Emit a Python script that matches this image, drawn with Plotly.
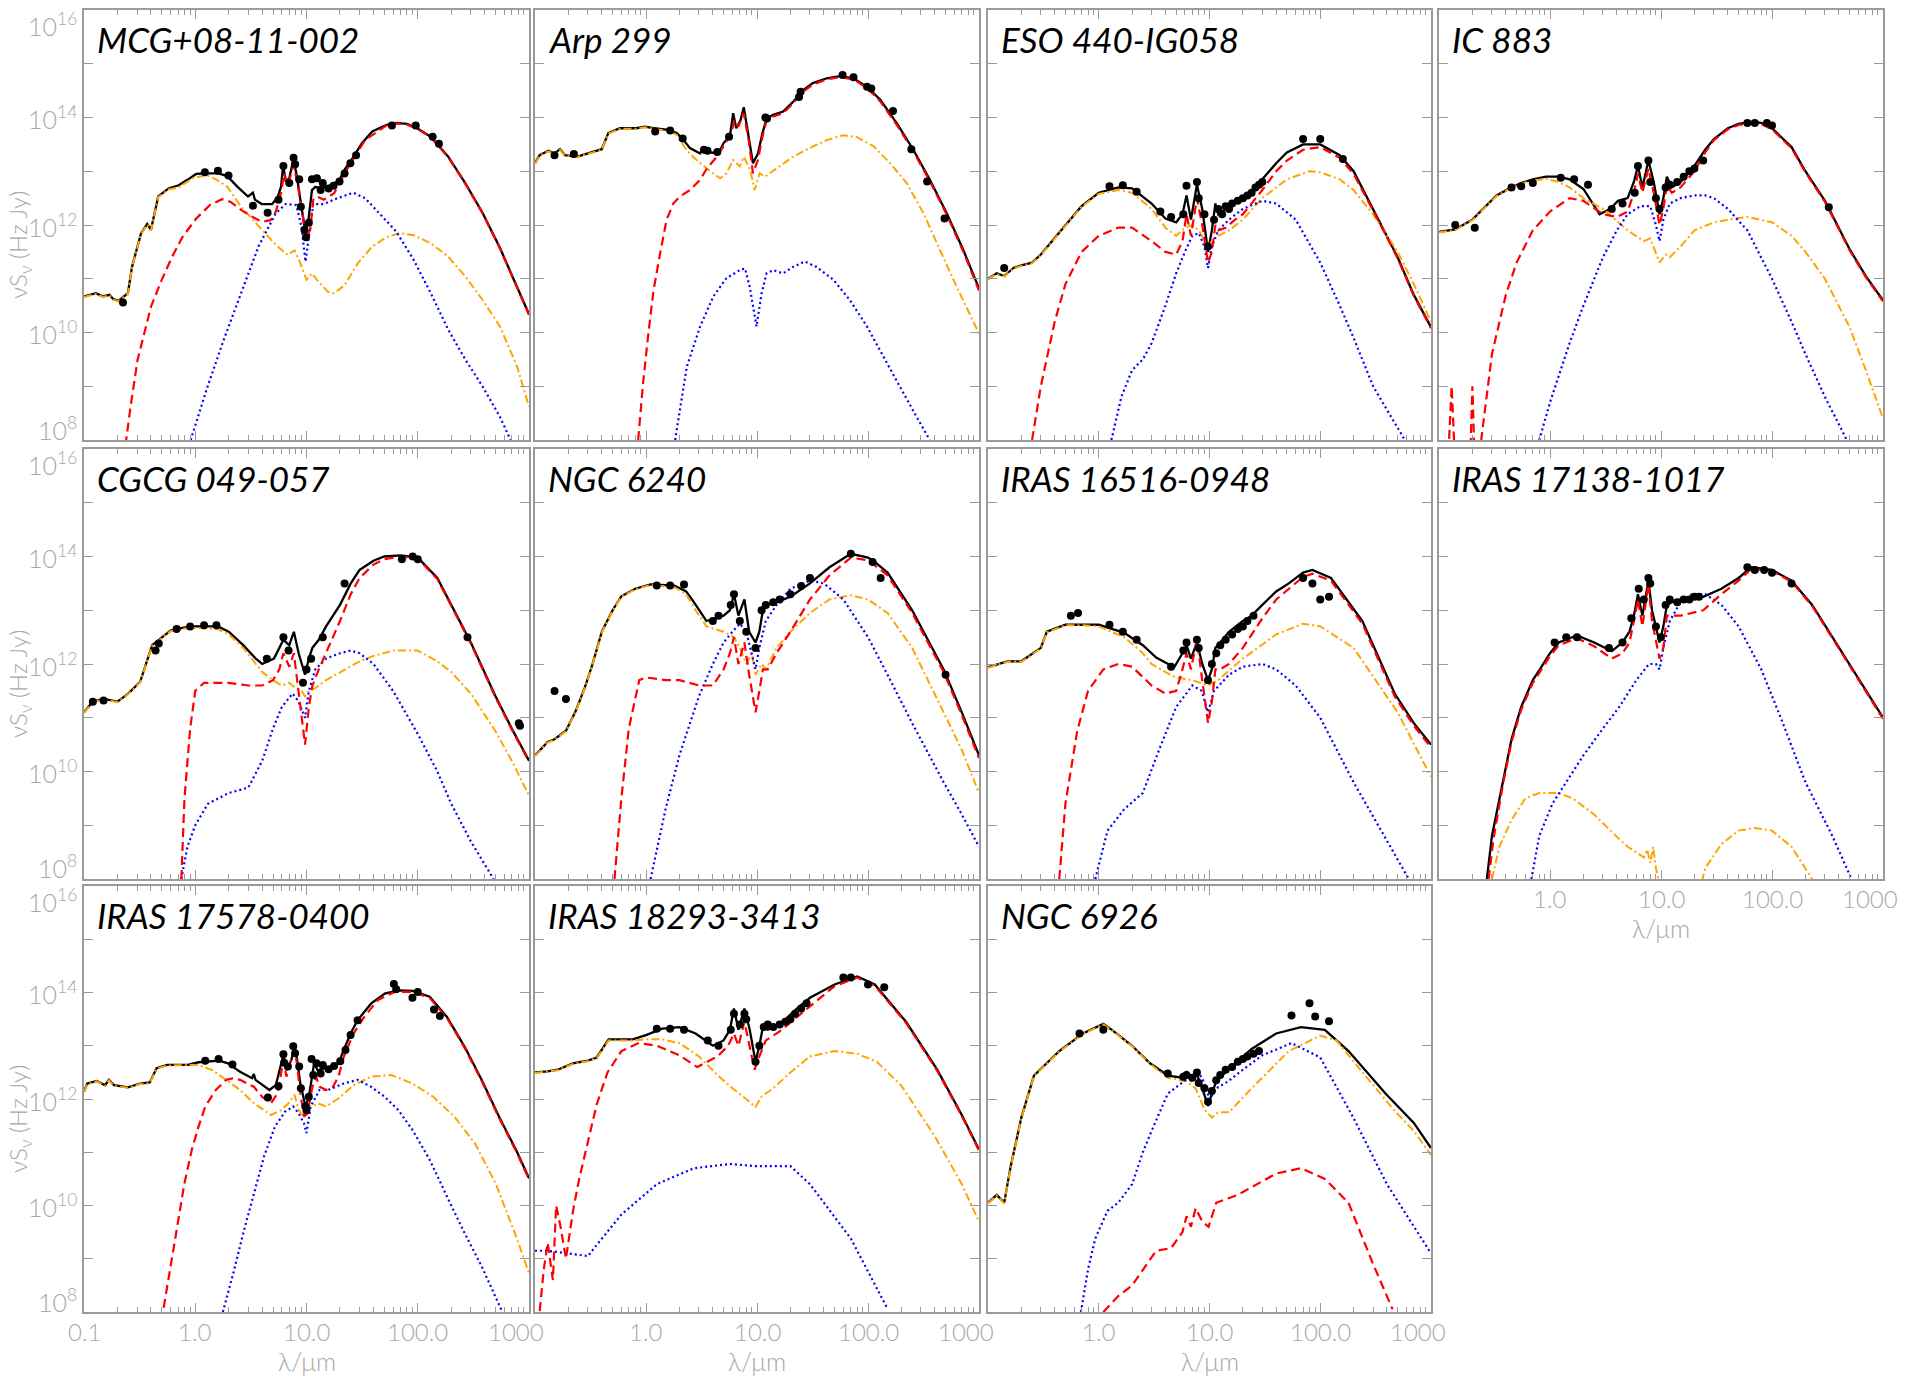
import math
import plotly.graph_objects as go

# ---------------- data (wavelength in micron, values = log10 of nu*S_nu in Hz Jy) ----------------
NAMES = ["MCG+08-11-002", "Arp 299", "ESO 440-IG058", "IC 883", "CGCG 049-057", "NGC 6240",
         "IRAS 16516-0948", "IRAS 17138-1017", "IRAS 17578-0400", "IRAS 18293-3413", "NGC 6926"]

MCG_TOT_L = [0.1,0.128,0.148,0.169,0.184,0.204,0.248,0.27,0.325,0.37,0.40,0.465,0.575,0.71,0.85,1.02,1.26,1.62,1.94,2.4,2.98,3.3,3.44,3.96,4.9,5.47,5.9,6.17,6.5,7.0,7.65,8.2,9.0,9.7,10.4,11.2,12.0,13.4,16.6,19.8,22,25.4,31.5,39,52,64,80,99,131,188,269,384,549,784,1000]
MCG_TOT_V = [10.67,10.73,10.67,10.70,10.62,10.59,10.73,11.22,11.84,12.02,11.91,12.53,12.68,12.74,12.84,12.95,12.96,12.96,12.91,12.71,12.53,12.60,12.47,12.39,12.39,12.50,12.71,13.12,12.81,12.87,13.24,12.90,12.34,11.91,12.09,12.65,12.71,12.68,12.74,12.84,13.03,13.21,13.52,13.74,13.86,13.90,13.88,13.80,13.64,13.27,12.77,12.22,11.57,10.85,10.34]
MCG_SB_L = [0.236,0.262,0.303,0.349,0.40,0.50,0.62,0.77,1.02,1.35,1.74,2.08,2.58,3.2,3.96,4.75,5.3,5.9,6.3,6.8,7.65,8.4,9.3,9.8,10.8,11.5,12.4,14.3,17.7,22,27.4,33.6,52,64,80,99,131,188,269,384,549,784,1000]
MCG_SB_V = [7.9,8.62,9.49,9.98,10.48,10.98,11.41,11.78,12.12,12.37,12.48,12.43,12.28,12.16,12.06,12.09,12.25,12.59,12.96,12.74,13.12,12.71,12.16,11.75,11.91,12.47,12.53,12.47,12.59,12.96,13.27,13.58,13.85,13.89,13.87,13.79,13.63,13.26,12.76,12.21,11.56,10.84,10.33]
MCG_HOST_L = [0.1,0.128,0.148,0.169,0.184,0.204,0.248,0.27,0.325,0.37,0.40,0.465,0.575,0.71,0.95,1.26,1.57,1.94,2.58,3.44,4.25,5.3,6.8,7.8,8.8,10.0,11.2,12.4,15.5,17.7,22,29,39,52,69,92,131,188,269,384,549,784,1000]
MCG_HOST_V = [10.66,10.72,10.66,10.69,10.61,10.58,10.72,11.21,11.83,12.01,11.90,12.52,12.66,12.70,12.87,12.93,12.84,12.71,12.34,12.06,11.84,11.63,11.44,11.53,11.29,10.98,11.10,10.98,10.76,10.73,10.88,11.29,11.60,11.77,11.85,11.81,11.66,11.41,11.04,10.60,10.11,9.36,8.62]
MCG_AGN_L = [0.91,1.26,1.8,2.58,3.7,5.3,6.5,8.1,9.0,9.8,10.6,11.5,14.3,19,26.3,33.6,45,64,92,131,188,269,384,549,682]
MCG_AGN_V = [8.0,8.93,9.86,10.73,11.60,12.22,12.39,12.37,11.97,11.32,11.85,12.39,12.39,12.50,12.60,12.50,12.22,11.88,11.35,10.73,10.05,9.49,8.99,8.43,8.0]
MCG_OBS_L = [0.224,1.22,1.6,1.99,3.3,4.47,5.6,6.2,7.0,7.65,7.9,8.6,8.9,9.6,9.9,10.5,11.2,12.4,13.4,14.0,15.8,17.5,19.8,22,24.8,27.9,58.6,95.9,136,155]
MCG_OBS_V = [10.56,12.98,13.01,12.92,12.36,12.23,12.47,13.10,12.78,13.25,13.13,12.85,12.34,11.91,11.77,12.04,12.85,12.87,12.65,12.78,12.68,12.73,12.81,12.96,13.15,13.30,13.85,13.85,13.64,13.51]

ARP_TOT_L = [0.1,0.11,0.132,0.15,0.168,0.186,0.237,0.292,0.399,0.458,0.58,0.82,0.98,1.17,1.59,1.89,2.16,2.49,3.07,3.29,3.53,4.49,4.99,5.72,6.1,6.5,7.1,7.6,8.4,9.2,10.2,11.2,12.2,14.0,17.2,21.1,26.1,31.8,42.5,56,74,98,129,182,256,361,512,724,1000]
ARP_TOT_V = [13.15,13.30,13.38,13.33,13.41,13.30,13.27,13.33,13.41,13.71,13.80,13.80,13.83,13.80,13.77,13.71,13.59,13.43,13.33,13.46,13.36,13.33,13.52,13.67,14.08,13.80,13.95,14.19,13.64,13.15,13.33,13.71,13.98,14.05,14.11,14.29,14.51,14.64,14.73,14.77,14.73,14.57,14.33,13.89,13.40,12.84,12.22,11.53,10.82]
ARP_SB_L = [0.85,0.94,1.05,1.17,1.34,1.53,1.76,2.02,2.49,3.07,3.53,4.34,5.2,5.9,6.3,6.8,7.6,8.4,9.2,10.2,11.2,12.2,14.0,17.2,21.1,26.1,31.8,42.5,56,74,98,129,182,256,361,512,724,1000]
ARP_SB_V = [8.0,9.05,9.98,10.79,11.47,12.09,12.40,12.53,12.65,12.84,13.05,13.27,13.52,13.74,13.95,13.83,14.08,13.58,12.96,13.21,13.64,13.95,14.02,14.08,14.26,14.48,14.61,14.71,14.75,14.71,14.55,14.30,13.86,13.37,12.81,12.19,11.50,10.78]
ARP_HOST_L = [0.1,0.11,0.132,0.15,0.168,0.186,0.237,0.292,0.399,0.458,0.58,0.82,0.98,1.17,1.59,1.89,2.3,2.85,3.53,4.65,5.3,6.1,7.0,7.6,8.7,9.5,10.6,11.8,15.0,21.1,31.8,42.5,59.7,79,113,158,223,316,446,630,1000]
ARP_HOST_V = [13.14,13.29,13.37,13.32,13.40,13.29,13.26,13.32,13.40,13.70,13.79,13.79,13.82,13.79,13.75,13.68,13.40,13.21,13.05,12.87,12.96,13.21,13.09,13.27,13.02,12.65,12.96,12.90,13.05,13.27,13.46,13.58,13.67,13.64,13.46,13.15,12.78,12.22,11.53,10.85,9.98]
ARP_AGN_L = [1.83,2.33,3.07,4.04,5.3,7.0,7.8,8.6,9.9,11.0,12.2,14.0,17.2,21.1,26.9,34.4,48.8,68.9,98,137,194,274,360]
ARP_AGN_V = [8.0,9.36,10.11,10.67,11.01,11.16,11.19,10.85,10.11,10.73,11.10,11.16,11.10,11.22,11.32,11.22,10.98,10.60,10.11,9.55,8.99,8.43,8.0]
ARP_OBS_L = [0.15,0.224,1.21,1.65,2.14,3.33,3.58,4.39,5.6,11.9,12.3,23.9,24.7,59,74,98,107,168,246,341,489]
ARP_OBS_V = [13.30,13.32,13.74,13.76,13.61,13.40,13.38,13.36,13.64,14.0,13.98,14.38,14.48,14.79,14.75,14.57,14.54,14.12,13.41,12.81,12.12]

ESO_TOT_L = [0.1,0.12,0.14,0.17,0.2,0.25,0.3,0.4,0.5,0.7,1.0,1.5,2.0,3.0,4.0,5.0,5.7,6.2,6.8,7.7,8.6,9.7,10.5,11.3,12.0,14,17,20,25,30,40,50,70,100,150,200,300,500,700,1000]
ESO_TOT_V = [11.0,11.1,11.05,11.2,11.25,11.3,11.45,11.75,12.0,12.35,12.6,12.7,12.68,12.4,12.12,12.05,12.2,12.55,12.1,12.75,12.3,11.5,11.9,12.4,12.2,12.3,12.4,12.5,12.65,12.85,13.15,13.35,13.5,13.5,13.3,13.0,12.3,11.4,10.7,10.1]
ESO_SB_L = [0.25,0.3,0.4,0.5,0.7,1.0,1.5,2.0,3.0,4.0,5.0,5.7,6.2,6.8,7.7,8.6,9.7,10.5,11.3,12,14,17,20,25,30,40,50,70,100,150,200,300,500,700,1000]
ESO_SB_V = [8.0,9.0,10.2,10.9,11.5,11.8,11.95,11.95,11.7,11.5,11.45,11.7,12.2,11.8,12.5,12.0,11.3,11.5,12.0,11.9,11.95,12.1,12.2,12.45,12.65,13.0,13.2,13.4,13.45,13.25,12.95,12.27,11.38,10.68,10.08]
ESO_HOST_L = [0.1,0.12,0.14,0.17,0.2,0.25,0.3,0.4,0.5,0.7,1.0,1.5,2.0,3.0,4.0,5.0,6.0,7.0,8.0,9.7,11,12,15,20,30,50,80,100,150,200,300,500,700,1000]
ESO_HOST_V = [10.99,11.09,11.04,11.19,11.24,11.29,11.44,11.74,11.99,12.34,12.58,12.65,12.6,12.3,11.95,11.8,11.95,12.0,11.9,11.6,11.75,11.8,11.9,12.1,12.5,12.85,13.0,12.98,12.85,12.65,12.2,11.5,10.9,10.2]
ESO_AGN_L = [1.3,1.6,2.0,2.5,3.0,4.0,5.0,6.0,7.0,8.0,9.0,9.7,10.5,12,15,20,30,40,60,100,150,200,300,450,580]
ESO_AGN_V = [8.0,8.8,9.3,9.5,9.8,10.5,11.1,11.5,11.8,11.85,11.6,11.2,11.6,11.9,12.1,12.3,12.45,12.4,12.1,11.3,10.5,9.9,9.0,8.4,8.0]
ESO_OBS_L = [0.14,1.25,1.65,2.2,3.6,4.5,5.8,6.2,7.7,8.0,9.0,9.7,11.0,12,13,14,15,16,18,20,22,24,26,28,30,70,100,160]
ESO_OBS_V = [11.2,12.72,12.74,12.62,12.25,12.15,12.2,12.73,12.8,12.5,12.2,11.6,12.1,12.3,12.2,12.35,12.3,12.4,12.45,12.5,12.55,12.6,12.7,12.75,12.8,13.6,13.6,13.23]

IC_TOT_L = [0.1,0.14,0.2,0.25,0.33,0.45,0.55,0.7,0.92,1.2,1.5,2.0,2.8,3.5,4.1,5.0,5.7,6.2,6.8,7.7,8.6,9.7,10.5,11.3,12.5,15,20,25,30,40,50,65,80,100,150,200,300,500,700,1000]
IC_TOT_V = [11.87,11.92,12.1,12.3,12.55,12.7,12.78,12.85,12.9,12.9,12.85,12.67,12.2,12.3,12.45,12.5,12.8,13.1,12.7,13.2,12.8,12.2,12.5,12.9,12.7,12.8,13.1,13.4,13.6,13.8,13.88,13.92,13.9,13.8,13.45,13.0,12.45,11.55,11.05,10.6]
IC_SB_L = [0.12,0.13,0.14,0.19,0.2,0.21,0.24,0.3,0.4,0.5,0.7,1.0,1.5,2.0,3.0,4.0,5.0,5.7,6.2,6.8,7.7,8.6,9.7,10.5,11.3,12.5,15,20,25,30,40,50,65,80,100,150,200,300,500,700,1000]
IC_SB_V = [7.5,9.0,7.5,7.5,9.0,7.5,8.0,9.6,10.7,11.3,11.9,12.25,12.5,12.45,12.2,12.15,12.25,12.6,12.95,12.6,13.05,12.6,12.0,12.3,12.75,12.6,12.7,13.0,13.35,13.58,13.78,13.86,13.9,13.88,13.78,13.43,12.98,12.43,11.53,11.03,10.58]
IC_HOST_L = [0.1,0.14,0.2,0.25,0.33,0.45,0.55,0.7,0.92,1.2,1.5,2.0,3.0,5.0,7.0,8.0,9.7,11,12,15,20,30,40,60,100,150,200,300,500,700,1000]
IC_HOST_V = [11.86,11.91,12.09,12.29,12.54,12.69,12.77,12.83,12.86,12.8,12.7,12.5,12.3,11.9,11.7,11.75,11.3,11.45,11.4,11.6,11.9,12.05,12.1,12.15,12.05,11.8,11.5,11.0,10.1,9.3,8.4]
IC_AGN_L = [0.8,1.0,1.5,2.0,3.0,4.0,5.0,6.5,8.0,9.0,9.7,10.5,12,15,20,25,30,40,60,100,150,200,300,500]
IC_AGN_V = [8.0,8.7,9.8,10.5,11.4,11.9,12.2,12.35,12.35,12.0,11.7,12.1,12.4,12.5,12.55,12.55,12.5,12.3,11.9,11.0,10.2,9.6,8.8,7.9]
IC_OBS_L = [0.14,0.21,0.45,0.55,0.7,1.25,1.65,2.2,3.6,4.5,5.8,6.2,7.7,8.0,9.0,9.7,11,12,14,16,18,20,24,60,70,90,100,325]
IC_OBS_V = [12.0,11.95,12.7,12.72,12.78,12.88,12.85,12.75,12.3,12.4,12.6,13.1,13.2,12.8,12.5,12.3,12.7,12.75,12.8,12.9,13.0,13.05,13.2,13.9,13.9,13.9,13.85,12.33]

CG_TOT_L = [0.1,0.12,0.15,0.2,0.25,0.32,0.41,0.5,0.6,0.8,1.0,1.6,2.0,2.7,3.5,4.0,5.1,5.7,6.2,7.0,7.7,8.5,9.7,10.5,11.3,12.9,15,20,25,30,40,50,70,100,150,200,300,500,700,1000]
CG_TOT_V = [11.1,11.3,11.35,11.3,11.45,11.67,12.35,12.5,12.62,12.68,12.7,12.7,12.6,12.35,12.1,12.0,12.1,12.3,12.45,12.35,12.6,12.2,11.8,12.1,12.3,12.45,12.7,13.1,13.5,13.75,13.92,14.0,14.02,13.98,13.6,13.1,12.4,11.4,10.8,10.2]
CG_SB_L = [0.75,0.8,0.9,1.0,1.2,1.6,2.0,3.0,4.0,5.0,5.7,6.2,7.0,7.7,8.5,9.7,10.5,11.3,12.9,15,20,25,30,40,50,70,100,150,200,300,500,700,1000]
CG_SB_V = [8.0,9.5,10.8,11.5,11.65,11.65,11.65,11.6,11.6,11.7,11.9,12.2,11.95,12.2,11.5,10.5,11.2,11.6,11.9,12.2,12.8,13.3,13.6,13.85,13.95,14.0,13.96,13.58,13.08,12.38,11.38,10.78,10.18]
CG_HOST_L = [0.1,0.12,0.15,0.2,0.25,0.32,0.41,0.5,0.6,0.8,1.0,1.6,2.0,2.7,3.5,4.0,5.0,6.0,7.0,8.0,9.0,9.7,10.5,12,15,20,30,40,60,100,150,200,300,500,700,1000]
CG_HOST_V = [11.09,11.29,11.34,11.29,11.44,11.66,12.34,12.49,12.61,12.66,12.67,12.65,12.55,12.3,12.0,11.85,11.7,11.6,11.65,11.55,11.5,11.4,11.5,11.55,11.7,11.85,12.05,12.15,12.25,12.25,12.05,11.85,11.45,10.75,10.2,9.55]
CG_AGN_L = [0.75,0.85,1.0,1.3,2.0,3.0,4.0,5.0,6.0,7.5,8.5,9.7,10.5,12,15,20,25,30,40,60,100,150,200,300,480]
CG_AGN_V = [8.0,8.6,9.0,9.4,9.6,9.7,10.2,10.8,11.2,11.45,11.3,11.0,11.5,11.9,12.1,12.2,12.25,12.2,12.0,11.5,10.7,10.0,9.4,8.7,8.0]
CG_OBS_L = [0.12,0.15,0.44,0.47,0.68,0.9,1.2,1.55,4.4,6.2,6.9,9.3,10,11,14,22,72,90,100,280,810,830]
CG_OBS_V = [11.3,11.32,12.25,12.38,12.65,12.7,12.72,12.72,12.1,12.5,12.25,11.65,11.9,12.1,12.5,13.5,13.95,14.0,13.95,12.5,10.9,10.85]

N62_TOT_L = [0.1,0.13,0.15,0.19,0.23,0.28,0.33,0.4,0.5,0.6,0.8,1.1,1.8,2.3,2.7,3.5,4.2,5.0,5.7,6.2,6.8,7.7,8.5,9.7,10.5,11.3,12.5,15,20,30,45,70,100,115,150,250,480,700,1000]
N62_TOT_V = [10.3,10.55,10.6,10.76,11.1,11.55,12.0,12.6,13.0,13.26,13.4,13.48,13.46,13.35,13.15,12.8,12.85,12.9,13.0,13.3,12.9,13.2,12.6,12.4,12.6,13.0,13.1,13.15,13.25,13.5,13.8,14.05,13.98,13.9,13.7,13.0,11.9,11.1,10.3]
N62_SB_L = [0.52,0.6,0.7,0.87,1.0,1.5,2.0,3.0,4.0,5.0,5.7,6.2,6.8,7.7,8.5,9.7,10.5,11.3,12.5,15,20,30,45,70,100,150,250,480,700,1000]
N62_SB_V = [8.0,9.5,10.8,11.7,11.75,11.7,11.7,11.6,11.6,11.9,12.2,12.5,12.0,12.4,11.8,11.1,11.5,11.9,11.9,12.2,12.6,13.2,13.65,13.98,13.93,13.65,12.95,11.85,11.05,10.25]
N62_HOST_L = [0.1,0.13,0.15,0.19,0.23,0.28,0.33,0.4,0.5,0.6,0.8,1.1,1.8,2.3,2.7,3.5,5.0,6.2,7.0,8.0,9.0,9.7,11,12,15,20,30,45,70,100,150,250,480,700,1000]
N62_HOST_V = [10.29,10.54,10.59,10.75,11.09,11.54,11.99,12.59,12.99,13.25,13.39,13.47,13.43,13.3,13.05,12.7,12.6,12.5,12.3,12.0,12.2,11.8,12.0,11.9,12.3,12.6,12.95,13.2,13.28,13.2,12.95,12.3,11.1,10.4,9.6]
N62_AGN_L = [1.1,1.5,2.0,3.0,4.0,5.0,6.0,7.0,8.0,9.0,9.7,10.5,12,15,20,30,40,60,100,150,250,480,700,1000]
N62_AGN_V = [8.0,9.3,10.3,11.4,12.0,12.4,12.6,12.75,12.6,12.2,11.9,12.3,12.8,13.1,13.4,13.55,13.5,13.2,12.5,11.8,10.9,9.8,9.2,8.6]
N62_OBS_L = [0.15,0.19,1.25,1.65,2.2,4.0,4.5,5.8,6.2,7.0,8.0,9.7,11,12,14,16,20,25,30,70,110,130,500]
N62_OBS_V = [11.5,11.35,13.46,13.46,13.48,12.8,12.9,13.1,13.3,12.8,12.6,12.3,13.0,13.1,13.15,13.2,13.3,13.45,13.6,14.05,13.9,13.6,11.8]

I16_TOT_L = [0.1,0.15,0.2,0.3,0.34,0.5,0.7,1.0,1.7,2.5,3.3,4.8,5.7,6.2,6.8,7.7,8.6,9.7,10.5,11.3,12.5,15,20,24,30,40,52,70,85,125,240,470,700,1000]
I16_TOT_V = [11.94,12.05,12.05,12.3,12.6,12.73,12.73,12.73,12.58,12.35,12.12,11.94,12.2,12.35,12.1,12.4,12.0,11.7,11.9,12.3,12.4,12.6,12.8,12.9,13.1,13.35,13.5,13.7,13.75,13.6,12.8,11.45,10.9,10.5]
I16_SB_L = [0.44,0.5,0.64,0.8,1.1,1.5,2.0,3.0,4.0,5.0,5.7,6.2,6.8,7.7,8.6,9.7,10.5,11.3,12.5,15,20,30,40,52,70,85,125,240,470,700,1000]
I16_SB_V = [8.0,9.4,10.76,11.5,11.9,12.0,11.95,11.6,11.45,11.5,11.9,12.2,11.9,12.45,11.7,10.9,11.3,11.9,11.9,12.0,12.3,12.85,13.2,13.4,13.62,13.68,13.55,12.75,11.4,10.85,10.45]
I16_HOST_L = [0.1,0.15,0.2,0.3,0.34,0.5,0.7,1.0,1.7,2.5,3.0,4.0,5.0,7.0,9.7,12,20,40,70,100,200,500,1000]
I16_HOST_V = [11.93,12.04,12.04,12.29,12.59,12.72,12.72,12.7,12.5,12.2,12.0,11.85,11.75,11.7,11.6,11.7,12.1,12.55,12.75,12.7,12.3,11.1,9.9]
I16_AGN_L = [0.93,1.2,1.7,2.5,3.5,5.0,7.0,8.5,9.7,11,15,20,30,40,60,100,200,400,630]
I16_AGN_V = [8.0,8.9,9.3,9.6,10.4,11.2,11.6,11.5,11.1,11.5,11.8,11.95,12.0,11.9,11.6,11.0,9.8,8.7,8.0]
I16_OBS_L = [0.56,0.65,1.25,1.65,2.2,4.5,5.8,6.2,7.7,8.0,9.7,10.5,11.5,12.5,14,16,18,20,22,25,70,85,100,120]
I16_OBS_V = [12.9,12.95,12.73,12.6,12.45,11.95,12.25,12.4,12.45,12.3,11.7,12.0,12.2,12.35,12.45,12.55,12.65,12.7,12.8,12.9,13.6,13.5,13.2,13.25]

I17_TOT_L = [0.27,0.3,0.38,0.45,0.55,0.7,0.81,1.0,1.2,1.75,2.5,3.6,4.5,5.2,5.7,6.2,6.8,7.7,8.3,9.0,9.7,10.5,11.3,12.5,15,24,35,50,65,100,150,230,500,700,1000]
I17_TOT_V = [8.0,8.8,9.85,10.6,11.2,11.7,11.9,12.2,12.4,12.53,12.4,12.24,12.4,12.6,12.9,13.3,12.9,13.55,13.0,12.7,12.4,12.7,13.1,13.15,13.2,13.25,13.4,13.6,13.8,13.75,13.55,13.1,12.0,11.5,11.0]
I17_SB_L = [0.28,0.31,0.38,0.45,0.55,0.7,0.81,1.0,1.2,1.75,2.5,3.6,4.5,5.2,5.7,6.2,6.8,7.7,8.3,9.0,9.7,10.5,11.3,12.5,15,24,35,50,65,100,150,230,500,700,1000]
I17_SB_V = [8.0,8.75,9.8,10.55,11.15,11.65,11.85,12.15,12.35,12.48,12.33,12.1,12.2,12.4,12.8,13.2,12.7,13.5,12.8,12.4,12.1,12.3,12.9,12.9,12.9,13.0,13.3,13.55,13.77,13.73,13.53,13.08,11.98,11.48,10.98]
I17_HOST_L = [0.3,0.35,0.45,0.6,0.8,1.2,1.6,2.5,3.5,5.0,6.0,7.0,7.5,8.0,8.5,9.0,9.7,23,25,35,50,70,100,150,230]
I17_HOST_V = [8.0,8.6,9.1,9.5,9.6,9.6,9.5,9.2,8.9,8.6,8.5,8.4,8.55,8.3,8.6,8.2,7.9,7.9,8.2,8.65,8.9,8.95,8.9,8.6,8.0]
I17_AGN_L = [0.68,0.8,1.05,1.5,2.0,3.0,4.2,6.0,7.8,9.0,9.7,10.5,12,15,19,25,35,50,80,120,200,350,520]
I17_AGN_V = [8.0,8.8,9.4,9.9,10.3,10.8,11.2,11.7,12.0,12.0,11.9,12.3,12.8,13.15,13.3,13.3,13.1,12.7,11.9,11.0,9.8,8.8,8.0]
I17_OBS_L = [1.1,1.4,1.75,3.4,4.5,5.4,6.3,7.0,7.7,8.0,9.0,10,11,12,14,16,18,20,22,60,70,85,100,150]
I17_OBS_V = [12.4,12.5,12.5,12.3,12.4,12.85,13.4,13.2,13.6,13.5,12.7,12.5,13.1,13.2,13.15,13.2,13.2,13.25,13.25,13.8,13.75,13.75,13.7,13.5]

I175_TOT_L = [0.1,0.107,0.13,0.145,0.155,0.167,0.186,0.248,0.318,0.39,0.45,0.56,0.86,1.07,1.64,1.97,2.53,3.24,3.36,3.48,4.64,5.3,5.7,6.2,6.6,7.3,7.8,8.2,8.8,9.8,10.5,11.3,11.7,12.6,14.0,16.2,19.4,21.6,24.9,28.8,38,50.5,67,89.6,128,183,264,375,537,766,1000]
I175_TOT_V = [12.14,12.29,12.34,12.29,12.26,12.36,12.26,12.22,12.29,12.31,12.58,12.64,12.64,12.69,12.72,12.67,12.51,12.39,12.47,12.36,12.17,12.26,12.54,12.83,12.54,12.73,12.98,12.76,12.29,11.86,12.04,12.48,12.67,12.54,12.57,12.57,12.67,12.92,13.23,13.48,13.79,13.98,14.04,14.03,13.92,13.54,12.98,12.36,11.67,11.04,10.51]
I175_SB_L = [0.52,0.6,0.69,0.8,0.93,1.07,1.23,1.53,1.9,2.2,2.53,2.92,3.36,4.0,4.8,5.5,6.2,6.6,7.1,7.8,8.2,8.8,9.5,10.2,11.3,12.2,13.1,15.0,17.3,19.4,21.6,26.5,33,43.8,62,89.6,128,183,264,375,537,766,1000]
I175_SB_V = [8.08,8.86,9.67,10.42,11.04,11.48,11.86,12.17,12.36,12.39,12.36,12.29,12.23,12.04,11.92,12.11,12.73,12.42,12.67,12.92,12.67,12.11,11.67,11.73,12.23,12.42,12.23,12.17,12.23,12.42,12.79,13.23,13.54,13.86,14.01,14.01,13.90,13.52,12.96,12.34,11.65,11.02,10.49]
I175_HOST_L = [0.1,0.107,0.13,0.145,0.155,0.167,0.186,0.248,0.318,0.39,0.45,0.56,0.86,1.07,1.43,1.9,2.53,3.36,4.8,5.9,6.9,7.8,8.5,9.5,10.2,11.3,12.6,15.0,19.4,26.5,38,58,89.6,138,213,326,500,766,1000]
I175_HOST_V = [12.13,12.28,12.33,12.28,12.25,12.35,12.25,12.21,12.28,12.30,12.57,12.63,12.63,12.64,12.54,12.36,12.17,11.92,11.70,11.79,11.92,12.08,11.79,11.67,11.86,11.86,11.92,11.86,12.01,12.26,12.42,12.45,12.29,12.04,11.67,11.17,10.42,9.42,8.73]
I175_AGN_L = [1.77,2.2,2.7,3.36,4.15,5.2,6.4,7.6,8.5,9.5,10.0,10.9,13.1,16.2,21.6,28.8,38,50.5,67,89.6,128,183,264,375,576]
I175_AGN_V = [8.0,8.73,9.48,10.23,10.92,11.48,11.76,11.86,11.73,11.54,11.36,11.86,12.17,12.18,12.29,12.36,12.23,12.04,11.79,11.42,10.86,10.17,9.48,8.86,8.0]
I175_OBS_L = [1.23,1.62,2.16,4.5,5.6,6.2,6.3,6.8,7.6,7.9,8.6,8.9,9.8,10.0,10.5,11.1,11.5,12.3,13.4,14.0,15.8,17.7,20.1,22.4,24.9,28.8,61,64,89.6,100,140,158]
I175_OBS_V = [12.72,12.75,12.65,12.03,12.24,12.84,12.68,12.61,12.99,12.86,12.61,12.2,11.86,11.79,12.04,12.75,12.45,12.67,12.48,12.64,12.56,12.62,12.71,12.92,13.2,13.48,14.16,14.06,13.9,14.01,13.68,13.56]

I18_TOT_L = [0.1,0.13,0.16,0.22,0.3,0.36,0.46,0.6,0.76,1.0,1.4,2.0,2.8,4.0,5.0,5.7,6.2,6.8,7.7,8.6,9.7,10.5,11.3,12.5,16,23,30,50,80,115,220,420,700,1000]
I18_TOT_V = [12.5,12.52,12.55,12.67,12.72,12.78,13.12,13.12,13.12,13.2,13.32,13.35,13.23,13.0,13.1,13.3,13.7,13.3,13.7,13.3,12.7,13.0,13.35,13.3,13.4,13.7,13.9,14.15,14.3,14.15,13.45,12.55,11.7,11.05]
I18_SB_L = [0.1,0.11,0.12,0.13,0.145,0.155,0.17,0.19,0.22,0.25,0.3,0.36,0.45,0.6,0.86,1.25,2.0,2.9,4.4,5.5,6.2,6.8,7.7,8.6,9.5,10.5,12,16,28,50,80,115,220,420,700,1000]
I18_SB_V = [7.5,8.0,8.8,9.3,8.6,10.0,9.6,9.0,9.9,10.5,11.2,11.9,12.5,12.9,13.05,13.0,12.82,12.6,12.8,13.0,13.23,13.0,13.45,13.0,12.55,12.8,13.1,13.27,13.68,14.12,14.28,14.13,13.43,12.53,11.68,11.03]
I18_HOST_L = [0.1,0.13,0.16,0.22,0.3,0.36,0.46,0.6,0.76,1.0,1.4,2.0,3.0,4.4,6.0,8.0,9.7,11,14,20,30,50,80,120,200,400,700,1000]
I18_HOST_V = [12.49,12.51,12.54,12.66,12.71,12.77,13.1,13.1,13.1,13.12,13.12,13.05,12.8,12.45,12.2,12.0,11.85,12.05,12.2,12.5,12.8,12.9,12.85,12.7,12.25,11.3,10.4,9.7]
I18_AGN_L = [0.1,0.13,0.2,0.3,0.36,0.6,1.25,2.7,5.7,9.5,20,30,70,150]
I18_AGN_V = [9.15,9.15,9.1,9.05,9.26,9.83,10.4,10.7,10.78,10.74,10.74,10.4,9.38,8.06]
I18_OBS_L = [1.25,1.65,2.2,3.6,4.5,5.8,6.2,7.0,7.7,8.0,9.7,10.5,11.5,12.5,14,16,18,20,22,25,28,60,70,100,140]
I18_OBS_V = [13.32,13.32,13.3,13.1,13.0,13.3,13.6,13.4,13.6,13.5,12.7,13.0,13.35,13.4,13.35,13.4,13.45,13.5,13.6,13.7,13.8,14.28,14.28,14.15,14.1]

N69_TOT_L = [0.1,0.12,0.14,0.16,0.2,0.26,0.35,0.44,0.72,1.1,1.35,2.0,2.9,4.2,5.7,6.2,6.8,7.7,8.6,9.7,10.5,11.5,14.7,24,40,67,110,180,390,700,1000]
N69_TOT_V = [10.05,10.2,10.05,10.73,11.65,12.44,12.7,12.9,13.23,13.41,13.28,13.0,12.67,12.44,12.4,12.5,12.35,12.46,12.2,11.87,12.1,12.33,12.55,12.94,13.23,13.35,13.3,12.9,12.1,11.55,11.08]
N69_SB_L = [1.1,1.5,2.0,3.3,4.5,5.7,6.2,6.8,7.5,8.6,9.8,11.5,18,40,67,110,180,300,450]
N69_SB_V = [8.0,8.3,8.5,9.15,9.2,9.5,9.8,9.6,9.95,9.7,9.6,10.05,10.2,10.6,10.7,10.5,10.05,8.9,8.05]
N69_HOST_L = [0.1,0.12,0.14,0.16,0.2,0.26,0.35,0.44,0.72,1.1,1.35,2.0,2.9,4.2,6.2,7.5,9.0,10.5,12,15,24,52,100,140,220,460,700,1000]
N69_HOST_V = [10.04,10.19,10.04,10.72,11.64,12.43,12.69,12.89,13.22,13.4,13.27,12.99,12.66,12.4,12.33,12.2,11.8,11.65,11.75,11.75,12.2,12.9,13.19,13.1,12.6,11.8,11.4,10.95]
N69_AGN_L = [0.69,0.8,0.93,1.2,1.5,2.0,2.5,3.0,4.2,6.2,8.0,9.0,10.0,11.5,14.7,20,30,55,100,200,400,700,1000]
N69_AGN_V = [8.0,8.8,9.38,9.9,10.05,10.4,11.0,11.4,12.1,12.37,12.5,12.3,11.99,12.2,12.33,12.55,12.82,13.05,12.78,11.64,10.4,9.6,9.1]
N69_OBS_L = [0.67,1.1,4.2,5.8,6.2,7.0,7.7,8.0,9.0,9.7,10.5,11.5,12.5,14,16,18,20,22,25,28,55,80,90,120]
N69_OBS_V = [13.23,13.3,12.48,12.42,12.45,12.4,12.5,12.3,12.2,11.95,12.15,12.35,12.45,12.55,12.6,12.7,12.75,12.8,12.85,12.9,13.57,13.8,13.55,13.46]

X_TICKS = [0.1, 1, 10, 100, 1000]
X_TICK_TEXT = ["0.1", "1.0", "10.0", "100.0", "1000"]
Y_TICK_EXP = [8, 10, 12, 14, 16]

# ---------------- layout helpers ----------------
W, H = 1909, 1376
COLS = [(84, 529), (535, 979), (988, 1431), (1439, 1883)]
ROWS = [(10, 440), (449, 879), (886, 1312)]
AX_GREY = "#9a9a9a"
TXT_GREY = "#a8a8a8"
FONT = "Lato"

PANELS = [
    (MCG_TOT_L, MCG_TOT_V, MCG_SB_L, MCG_SB_V, MCG_HOST_L, MCG_HOST_V, MCG_AGN_L, MCG_AGN_V, MCG_OBS_L, MCG_OBS_V),
    (ARP_TOT_L, ARP_TOT_V, ARP_SB_L, ARP_SB_V, ARP_HOST_L, ARP_HOST_V, ARP_AGN_L, ARP_AGN_V, ARP_OBS_L, ARP_OBS_V),
    (ESO_TOT_L, ESO_TOT_V, ESO_SB_L, ESO_SB_V, ESO_HOST_L, ESO_HOST_V, ESO_AGN_L, ESO_AGN_V, ESO_OBS_L, ESO_OBS_V),
    (IC_TOT_L, IC_TOT_V, IC_SB_L, IC_SB_V, IC_HOST_L, IC_HOST_V, IC_AGN_L, IC_AGN_V, IC_OBS_L, IC_OBS_V),
    (CG_TOT_L, CG_TOT_V, CG_SB_L, CG_SB_V, CG_HOST_L, CG_HOST_V, CG_AGN_L, CG_AGN_V, CG_OBS_L, CG_OBS_V),
    (N62_TOT_L, N62_TOT_V, N62_SB_L, N62_SB_V, N62_HOST_L, N62_HOST_V, N62_AGN_L, N62_AGN_V, N62_OBS_L, N62_OBS_V),
    (I16_TOT_L, I16_TOT_V, I16_SB_L, I16_SB_V, I16_HOST_L, I16_HOST_V, I16_AGN_L, I16_AGN_V, I16_OBS_L, I16_OBS_V),
    (I17_TOT_L, I17_TOT_V, I17_SB_L, I17_SB_V, I17_HOST_L, I17_HOST_V, I17_AGN_L, I17_AGN_V, I17_OBS_L, I17_OBS_V),
    (I175_TOT_L, I175_TOT_V, I175_SB_L, I175_SB_V, I175_HOST_L, I175_HOST_V, I175_AGN_L, I175_AGN_V, I175_OBS_L, I175_OBS_V),
    (I18_TOT_L, I18_TOT_V, I18_SB_L, I18_SB_V, I18_HOST_L, I18_HOST_V, I18_AGN_L, I18_AGN_V, I18_OBS_L, I18_OBS_V),
    (N69_TOT_L, N69_TOT_V, N69_SB_L, N69_SB_V, N69_HOST_L, N69_HOST_V, N69_AGN_L, N69_AGN_V, N69_OBS_L, N69_OBS_V),
]

for k, p in enumerate(PANELS):
    for j in range(0, 10, 2):
        if len(p[j]) != len(p[j + 1]):
            raise ValueError(f"panel {NAMES[k]} series {j//2}: {len(p[j])} vs {len(p[j+1])}")


def lin(vals):
    return [10 ** v for v in vals]


def px_x(px):
    return px / W


def px_y(py):
    return 1 - py / H


fig = go.Figure()
layout = dict(width=W, height=H, margin=dict(l=0, r=0, t=0, b=0, pad=0),
              paper_bgcolor="white", plot_bgcolor="white", showlegend=False)
annotations = []

minor_x = [m * 10 ** e for e in range(-1, 3) for m in range(2, 10)]
minor_y = [1e9, 1e11, 1e13, 1e15]

STYLES = {
    "host": dict(color="#ffa500", width=2.0, dash="8px,3px,2px,3px"),
    "agn": dict(color="#0000ff", width=2.2, dash="2px,3px"),
    "sb": dict(color="#ff0000", width=2.2, dash="9px,5px"),
}
TICK_FONT = dict(family=FONT, size=24, color=TXT_GREY, weight=300)
YTICK_FONT = dict(family=FONT, size=25, color=TXT_GREY, weight=300)

for k, p in enumerate(PANELS):
    r, c = divmod(k, 4)
    n = k + 1
    xa = "x" if n == 1 else f"x{n}"
    ya = "y" if n == 1 else f"y{n}"
    tl, tv, sl, sv, hl, hv, al, av, ol, ov = p

    fig.add_trace(go.Scatter(x=tl, y=lin(tv), mode="lines", xaxis=xa, yaxis=ya,
                             line=dict(color="black", width=2.3), hoverinfo="skip"))
    fig.add_trace(go.Scatter(x=hl, y=lin(hv), mode="lines", xaxis=xa, yaxis=ya,
                             line=STYLES["host"], hoverinfo="skip"))
    fig.add_trace(go.Scatter(x=al, y=lin(av), mode="lines", xaxis=xa, yaxis=ya,
                             line=STYLES["agn"], hoverinfo="skip"))
    fig.add_trace(go.Scatter(x=sl, y=lin(sv), mode="lines", xaxis=xa, yaxis=ya,
                             line=STYLES["sb"], hoverinfo="skip"))
    fig.add_trace(go.Scatter(x=ol, y=lin(ov), mode="markers", xaxis=xa, yaxis=ya,
                             marker=dict(color="black", size=8), cliponaxis=False, hoverinfo="skip"))

    x0, x1 = COLS[c]
    y0, y1 = ROWS[r]
    bottom = (r == 2) or (r == 1 and c == 3)
    left = (c == 0)
    key_x = "xaxis" if n == 1 else f"xaxis{n}"
    key_y = "yaxis" if n == 1 else f"yaxis{n}"
    layout[key_x] = dict(
        type="log", range=[-1, 3.0], domain=[px_x(x0), px_x(x1)], anchor=ya,
        automargin=False,
        showline=True, linecolor=AX_GREY, linewidth=1.5, mirror="allticks",
        ticks="inside", ticklen=9, tickwidth=1.2, tickcolor=AX_GREY,
        tickmode="array", tickvals=X_TICKS, showticklabels=False,
        minor=dict(tickmode="array", tickvals=minor_x, ticks="inside", ticklen=5,
                   tickwidth=1.2, tickcolor=AX_GREY, showgrid=False),
        showgrid=False, zeroline=False, fixedrange=True,
    )
    layout[key_y] = dict(
        type="log", range=[8, 16], domain=[px_y(y1), px_y(y0)], anchor=xa,
        automargin=False,
        showline=True, linecolor=AX_GREY, linewidth=1.5, mirror="allticks",
        ticks="inside", ticklen=9, tickwidth=1.2, tickcolor=AX_GREY,
        tickmode="array", tickvals=[10.0 ** e for e in Y_TICK_EXP], showticklabels=False,
        minor=dict(tickmode="array", tickvals=minor_y, ticks="inside", ticklen=9,
                   tickwidth=1.2, tickcolor=AX_GREY, showgrid=False),
        showgrid=False, zeroline=False, fixedrange=True,
    )

    annotations.append(dict(
        text=f"<i>{NAMES[k]}</i>", xref="paper", yref="paper",
        x=px_x(x0 + 11), y=px_y(y0 + 29), xanchor="left", yanchor="middle",
        showarrow=False, font=dict(family=FONT, size=35, color="black")))

    if left:
        # y tick labels (edge labels kept inside the panel height, as in the reference)
        for e in Y_TICK_EXP:
            py = y0 + (16 - e) / 8 * (y1 - y0)
            if e == 16:
                py += 14
            elif e == 8:
                py -= 12
            annotations.append(dict(
                text=f"10<sup>{e}</sup>", xref="paper", yref="paper",
                x=px_x(x0 - 5), y=px_y(py), xanchor="right", yanchor="middle",
                showarrow=False, font=YTICK_FONT))
        annotations.append(dict(
            text="\u03bdS<sub>\u03bd</sub> (Hz Jy)", xref="paper", yref="paper",
            x=px_x(19), y=px_y((y0 + y1) / 2 + 20), xanchor="center", yanchor="middle",
            textangle=-90, showarrow=False,
            font=dict(family=FONT, size=24, color=TXT_GREY, weight=300)))
    if bottom:
        for v, t in zip(X_TICKS, X_TICK_TEXT):
            if c != 0 and v == 0.1:
                continue
            px = x0 + (math.log10(v) + 1) / 4 * (x1 - x0)
            if v == 1000:
                px -= 13
            annotations.append(dict(
                text=t, xref="paper", yref="paper",
                x=px_x(px), y=px_y(y1 + 19), xanchor="center", yanchor="middle",
                showarrow=False, font=TICK_FONT))
        annotations.append(dict(
            text="\u03bb/\u03bcm", xref="paper", yref="paper",
            x=px_x((x0 + x1) / 2), y=px_y(y1 + 49), xanchor="center", yanchor="middle",
            showarrow=False, font=dict(family=FONT, size=25, color=TXT_GREY, weight=300)))

layout["annotations"] = annotations
fig.update_layout(**layout)
fig.write_html("out.html")
